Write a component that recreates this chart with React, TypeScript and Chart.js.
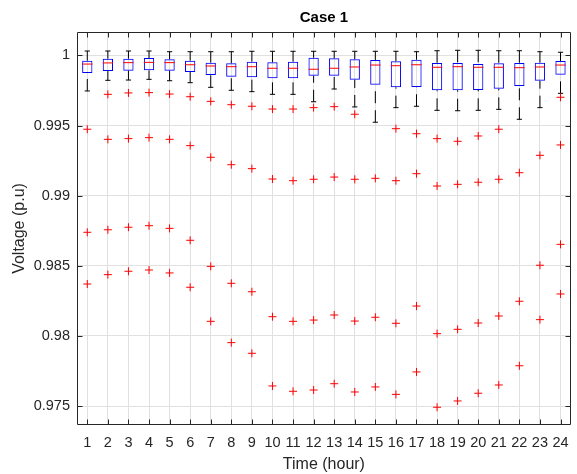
import { useEffect, useRef } from 'react';
import { Chart, registerables } from 'chart.js';

Chart.register(...registerables);

const chartTitle = 'Case 1';
const hours = [1, 2, 3, 4, 5, 6, 7, 8, 9, 10, 11, 12, 13, 14, 15, 16, 17, 18, 19, 20, 21, 22, 23, 24];

const upperWhisker = [1.00032, 1.00032, 1.00032, 1.00032, 1.00027, 1.00027, 1.00027, 1.00027, 1.0003, 1.0003, 1.0003, 1.0003, 1.0003, 1.0003, 1.0003, 1.0003, 1.00027, 1.00034, 1.00037, 1.00037, 1.00034, 1.00034, 1.00027, 1.00023];
const q3 = [0.99963, 0.99977, 0.99977, 0.99982, 0.99973, 0.99963, 0.99949, 0.99944, 0.99956, 0.99951, 0.99956, 0.99984, 0.9998, 0.99973, 0.99968, 0.99959, 0.9997, 0.99947, 0.99947, 0.99939, 0.99944, 0.99947, 0.99949, 0.99961];
const median = [0.99939, 0.99947, 0.99949, 0.99951, 0.99949, 0.99934, 0.99925, 0.9992, 0.9992, 0.99909, 0.99909, 0.99902, 0.99909, 0.99918, 0.99932, 0.99927, 0.99934, 0.99916, 0.9992, 0.99916, 0.99916, 0.99913, 0.99918, 0.99932];
const q1 = [0.99875, 0.99889, 0.99892, 0.99894, 0.99892, 0.99882, 0.99861, 0.99849, 0.99845, 0.99837, 0.99837, 0.99856, 0.99856, 0.99827, 0.99792, 0.99773, 0.99775, 0.99752, 0.99752, 0.99754, 0.99763, 0.99782, 0.9982, 0.99863];
const lowerWhisker = [0.99747, 0.99823, 0.99825, 0.9983, 0.9982, 0.99806, 0.99773, 0.99752, 0.99742, 0.99723, 0.99723, 0.9967, 0.99761, 0.99633, 0.99524, 0.99628, 0.99638, 0.99609, 0.99606, 0.99609, 0.99616, 0.99545, 0.99628, 0.9973];
const outliers: number[][] = [
  [0.99474, 0.98739, 0.9837],
  [0.99723, 0.99402, 0.98757, 0.98437],
  [0.99733, 0.99407, 0.98775, 0.98461],
  [0.99735, 0.99414, 0.98786, 0.9847],
  [0.99725, 0.99402, 0.98767, 0.98449],
  [0.99706, 0.99357, 0.98682, 0.98347],
  [0.99673, 0.99274, 0.98496, 0.98104],
  [0.99649, 0.99221, 0.98375, 0.97952],
  [0.99638, 0.99193, 0.98315, 0.97876],
  [0.99618, 0.99119, 0.98137, 0.97643],
  [0.99618, 0.99107, 0.98104, 0.97605],
  [0.99628, 0.99117, 0.98113, 0.97614],
  [0.99635, 0.99133, 0.98149, 0.97659],
  [0.99581, 0.99117, 0.98106, 0.976],
  [0.99124, 0.98133, 0.97636],
  [0.99478, 0.99107, 0.9809, 0.97583],
  [0.99442, 0.99157, 0.98213, 0.97743],
  [0.99407, 0.99069, 0.98016, 0.97491],
  [0.99388, 0.99081, 0.98047, 0.97536],
  [0.99426, 0.99096, 0.98092, 0.97591],
  [0.99474, 0.99117, 0.98142, 0.9765],
  [0.99164, 0.98247, 0.97787],
  [0.99288, 0.98504, 0.98116],
  [0.99702, 0.99362, 0.98653, 0.98299],
];

const yTicks = [0.975, 0.98, 0.985, 0.99, 0.995, 1];
const yTickLabels = ['0.975', '0.98', '0.985', '0.99', '0.995', '1'];
const xTickLabels = hours.map((h) => String(h));

const FONT = '"Liberation Sans", Arial, Helvetica, sans-serif';
const AXIS_COLOR = '#262626';

const framePlugin = {
  id: 'matlabFrame',
  afterDatasetsDraw(chart: any) {
    const { ctx, chartArea } = chart;
    const { left, right, top, bottom } = chartArea;
    const L = Math.round(left) + 0.5;
    const R = Math.round(right) - 0.5;
    const T = Math.round(top) + 0.5;
    const B = Math.round(bottom) - 0.5;
    const tl = 5;
    ctx.save();
    ctx.strokeStyle = AXIS_COLOR;
    ctx.lineWidth = 1;
    ctx.beginPath();
    ctx.rect(L, T, R - L, B - T);
    const xs = chart.scales.x;
    xs.ticks.forEach((t: any) => {
      const px = Math.round(xs.getPixelForValue(t.value)) + 0.5;
      ctx.moveTo(px, B);
      ctx.lineTo(px, B - tl);
      ctx.moveTo(px, T);
      ctx.lineTo(px, T + tl);
    });
    const ys = chart.scales.y;
    ys.ticks.forEach((t: any) => {
      const py = Math.round(ys.getPixelForValue(t.value)) + 0.5;
      ctx.moveTo(L, py);
      ctx.lineTo(L + tl, py);
      ctx.moveTo(R, py);
      ctx.lineTo(R - tl, py);
    });
    ctx.stroke();

    // title centred over the axes, as MATLAB does
    ctx.fillStyle = '#000000';
    ctx.font = `bold 15px ${FONT}`;
    ctx.textAlign = 'center';
    ctx.textBaseline = 'middle';
    ctx.fillText(chartTitle, (left + right) / 2, top - 14);
    ctx.restore();
  },
};

export default function App() {
  const canvasRef = useRef<HTMLCanvasElement | null>(null);

  useEffect(() => {
    document.body.style.margin = '0';
    const canvas = canvasRef.current;
    if (!canvas) return;

    const boxData = hours.map((h, i) => ({ x: h, y: [q1[i], q3[i]] }));
    const whiskerData: any[] = [];
    hours.forEach((h, i) => {
      whiskerData.push({ x: h, y: lowerWhisker[i] });
      whiskerData.push({ x: h, y: q1[i] });
      whiskerData.push({ x: h, y: null });
      whiskerData.push({ x: h, y: upperWhisker[i] });
      whiskerData.push({ x: h, y: q3[i] });
      whiskerData.push({ x: h, y: null });
    });
    const capData: any[] = [];
    hours.forEach((h, i) => {
      capData.push({ x: h, y: upperWhisker[i] });
      capData.push({ x: h, y: lowerWhisker[i] });
    });
    const medianData = hours.map((h, i) => ({ x: h, y: median[i] }));
    const outlierData = outliers.flatMap((arr, i) => arr.map((v) => ({ x: hours[i], y: v })));

    const chart = new Chart(canvas, {
      type: 'bar',
      data: {
        datasets: [
          {
            type: 'bar',
            label: 'box',
            data: boxData as any,
            backgroundColor: 'rgba(0,0,0,0)',
            borderColor: '#0000ff',
            borderWidth: 1,
            borderSkipped: false,
            barPercentage: 0.5,
            categoryPercentage: 1,
            grouped: false,
            order: 4,
          } as any,
          {
            type: 'line',
            label: 'whiskers',
            data: whiskerData,
            borderColor: '#000000',
            borderWidth: 1,
            borderDash: [12, 7],
            pointRadius: 0,
            spanGaps: false,
            fill: false,
            order: 5,
          } as any,
          {
            type: 'line',
            label: 'caps',
            data: capData,
            showLine: false,
            pointStyle: 'line',
            pointRadius: 2.6,
            pointBorderColor: '#000000',
            pointBorderWidth: 1,
            order: 3,
          } as any,
          {
            type: 'line',
            label: 'median',
            data: medianData,
            showLine: false,
            pointStyle: 'line',
            pointRadius: 5.2,
            pointBorderColor: '#ff0000',
            pointBorderWidth: 1,
            order: 1,
          } as any,
          {
            type: 'line',
            label: 'outliers',
            data: outlierData,
            showLine: false,
            pointStyle: 'cross',
            pointRadius: 4,
            pointBorderColor: '#ff0000',
            pointBorderWidth: 1,
            order: 2,
          } as any,
        ],
      },
      options: {
        responsive: false,
        animation: false,
        devicePixelRatio: 1,
        layout: { padding: { left: 0, right: 2, top: 32, bottom: 0 } },
        plugins: {
          legend: { display: false },
          tooltip: { enabled: false },
          title: { display: false },
        },
        scales: {
          x: {
            type: 'linear',
            min: 0.5,
            max: 24.5,
            offset: false,
            afterBuildTicks: (s: any) => {
              s.ticks = hours.map((v) => ({ value: v }));
            },
            afterFit: (s: any) => {
              s.height = 49;
              s.paddingLeft = 0;
              s.paddingRight = 0;
            },
            grid: { color: '#e0e0e0', lineWidth: 1, drawTicks: false, offset: false },
            border: { display: false },
            ticks: {
              autoSkip: false,
              maxRotation: 0,
              minRotation: 0,
              padding: 9,
              color: AXIS_COLOR,
              font: { family: FONT, size: 14.5 },
              callback: (_v: any, i: number) => xTickLabels[i],
            },
            title: {
              display: true,
              text: 'Time (hour)',
              color: AXIS_COLOR,
              font: { family: FONT, size: 16 },
              padding: { top: 0, bottom: 0 },
            },
          } as any,
          y: {
            type: 'linear',
            min: 0.973645,
            max: 1.001676,
            afterBuildTicks: (s: any) => {
              s.ticks = yTicks.map((v) => ({ value: v }));
            },
            afterFit: (s: any) => {
              s.width = 77;
              s.paddingTop = 0;
              s.paddingBottom = 0;
            },
            grid: { color: '#e0e0e0', lineWidth: 1, drawTicks: false },
            border: { display: false },
            ticks: {
              padding: 7,
              color: AXIS_COLOR,
              font: { family: FONT, size: 14.5 },
              callback: (_v: any, i: number) => yTickLabels[i],
            },
            title: {
              display: true,
              text: 'Voltage (p.u)',
              color: AXIS_COLOR,
              font: { family: FONT, size: 16 },
              padding: { top: 10, bottom: 0 },
            },
          } as any,
        },
      },
      plugins: [framePlugin],
    });

    return () => {
      chart.destroy();
    };
  }, []);

  return (
    <div style={{ width: 577, height: 474 }}>
      <canvas ref={canvasRef} width={577} height={474} style={{ display: 'block' }} />
    </div>
  );
}
